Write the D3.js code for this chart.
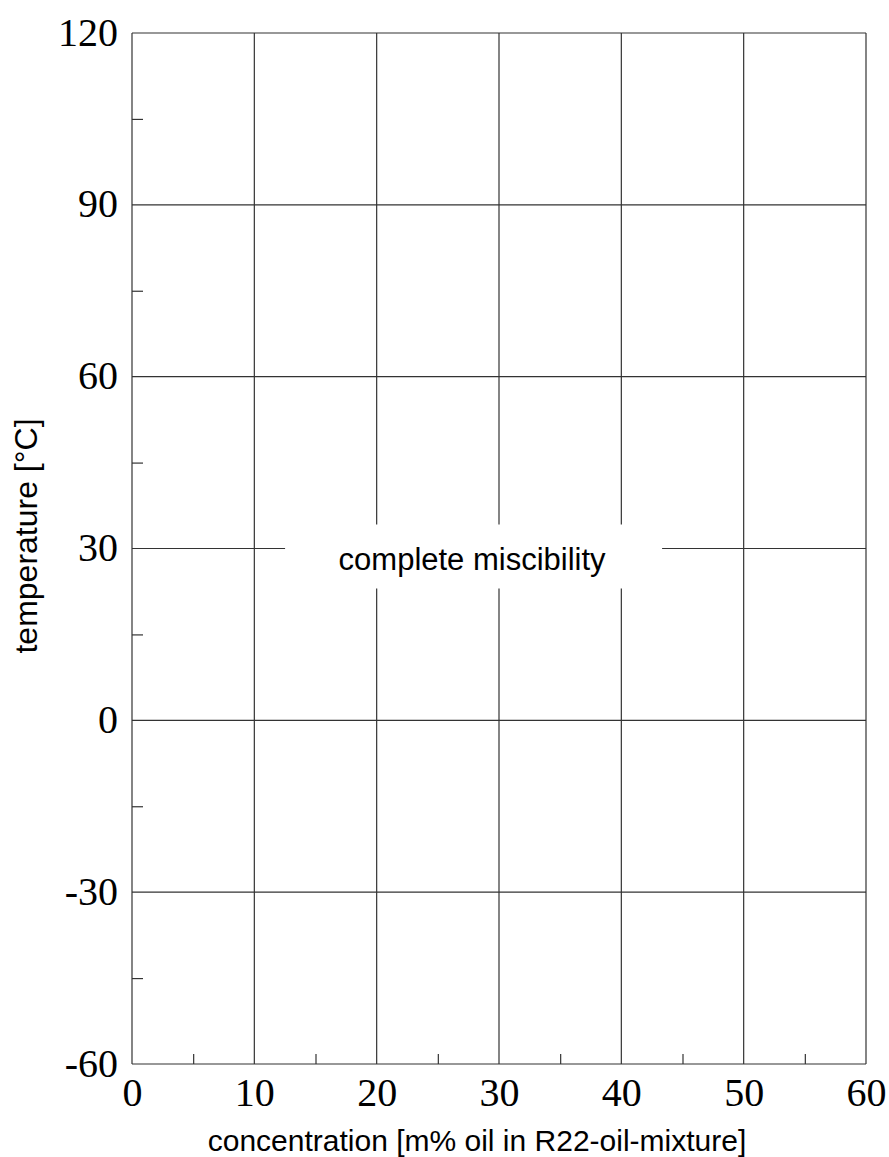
<!DOCTYPE html>
<html><head><meta charset="utf-8">
<script src="https://cdn.jsdelivr.net/npm/d3@7"></script>
<style>html,body{margin:0;padding:0;background:#fff}svg{display:block}</style>
</head><body>
<script>
const xMajorTicks = [0, 10, 20, 30, 40, 50, 60];
const xMinorTicks = [5, 15, 25, 35, 45, 55];
const yMajorTicks = [-60, -30, 0, 30, 60, 90, 120];
const yMinorTicks = [-45, -15, 15, 45, 75, 105];
const xDomain = [0, 60];
const yDomain = [-60, 120];
const xTitle = "concentration [m% oil in R22-oil-mixture]";
const yTitle = "temperature [°C]";
const regionLabels = [{text: "complete miscibility", x: 27.8, y: 30}];

const W = 889, H = 1157;
const svg = d3.select("body").append("svg").attr("width", W).attr("height", H);
const x = d3.scaleLinear().domain(xDomain).range([132, 866]);
const y = d3.scaleLinear().domain(yDomain).range([1064, 33]);
const lc = "#333";
const fmt = d => String(d);

// gridlines
const g = svg.append("g");
g.selectAll(".vg").data(xMajorTicks).join("line")
  .attr("x1", d => x(d)).attr("x2", d => x(d)).attr("y1", y(yDomain[0])).attr("y2", y(yDomain[1]))
  .attr("stroke", lc).attr("stroke-width", 1.2);
g.selectAll(".hg").data(yMajorTicks).join("line")
  .attr("y1", d => y(d)).attr("y2", d => y(d)).attr("x1", x(xDomain[0])).attr("x2", x(xDomain[1]))
  .attr("stroke", lc).attr("stroke-width", 1.2);

// minor ticks (inside)
const bx = svg.append("g").attr("transform", `translate(0,${y(yDomain[0])})`)
  .call(d3.axisTop(x).tickValues(xMinorTicks).tickSize(10).tickFormat(""));
const ly = svg.append("g").attr("transform", `translate(${x(xDomain[0])},0)`)
  .call(d3.axisRight(y).tickValues(yMinorTicks).tickSize(11).tickFormat(""));
[bx, ly].forEach(a => { a.select(".domain").remove(); a.selectAll("line").attr("stroke", lc).attr("stroke-width", 1.2); });

// major tick labels
const xa = svg.append("g").attr("transform", `translate(0,${y(yDomain[0])})`)
  .call(d3.axisBottom(x).tickValues(xMajorTicks).tickSize(0).tickPadding(14).tickFormat(fmt));
const ya = svg.append("g").attr("transform", `translate(${x(xDomain[0])},0)`)
  .call(d3.axisLeft(y).tickValues(yMajorTicks).tickSize(0).tickPadding(14).tickFormat(fmt));
[xa, ya].forEach(a => {
  a.select(".domain").remove();
  a.selectAll("text").attr("font-family", "'Liberation Serif','Times New Roman',serif")
    .attr("font-size", 40).attr("fill", "#000");
});
xa.selectAll("text").attr("dy", "0.71em");
ya.selectAll("text").attr("dy", "0.3em");

// region label with white background
regionLabels.forEach(r => {
  svg.append("rect").attr("x", x(r.x) - 187).attr("y", y(r.y) - 24).attr("width", 377).attr("height", 64).attr("fill", "#fff");
  svg.append("text").attr("x", x(r.x)).attr("y", y(r.y) + 21).attr("text-anchor", "middle")
    .attr("font-family", "'Liberation Sans',Arial,sans-serif").attr("font-size", 31).attr("fill", "#000").text(r.text);
});

// axis titles
svg.append("text").attr("x", 477).attr("y", 1151).attr("text-anchor", "middle")
  .attr("font-family", "'Liberation Sans',Arial,sans-serif").attr("font-size", 30).attr("fill", "#000").text(xTitle);
svg.append("text").attr("transform", "translate(37,536) rotate(-90)").attr("text-anchor", "middle")
  .attr("font-family", "'Liberation Sans',Arial,sans-serif").attr("font-size", 32).attr("fill", "#000").text(yTitle);
</script>
</body></html>
